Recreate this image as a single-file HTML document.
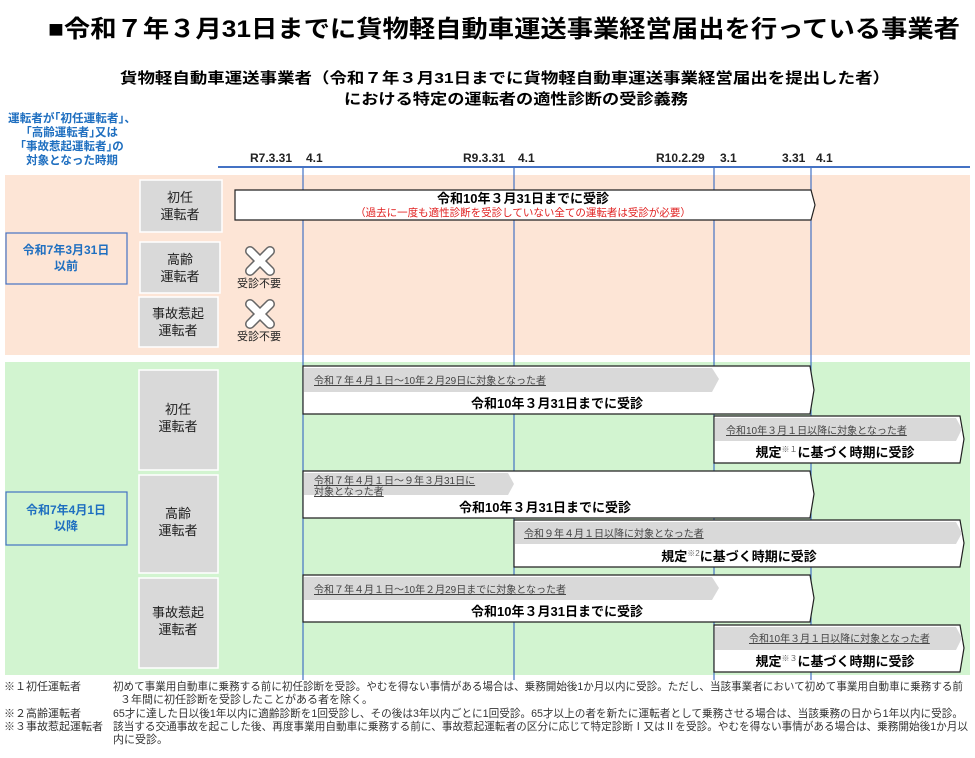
<!DOCTYPE html>
<html><head><meta charset="utf-8"><style>
html,body{margin:0;padding:0;background:#fff;}
svg{display:block;font-family:"Liberation Sans","Noto Sans CJK JP",sans-serif;}
</style></head><body>
<svg width="975" height="758" viewBox="0 0 975 758" xmlns="http://www.w3.org/2000/svg">
<defs>
<style>
.b{font-weight:bold;}
.lab{font-size:13px;fill:#222;}
.hd{font-size:10px;fill:#444;text-decoration:underline;}
.m{font-size:13px;font-weight:bold;fill:#000;}
.fn{font-size:11px;fill:#333;}
</style>
</defs>
<text x="48" y="37" font-size="24" class="b" textLength="912" lengthAdjust="spacingAndGlyphs">■令和７年３月31日までに貨物軽自動車運送事業経営届出を行っている事業者</text>
<text x="120" y="83" font-size="15" class="b" textLength="770" lengthAdjust="spacingAndGlyphs">貨物軽自動車運送事業者（令和７年３月31日までに貨物軽自動車運送事業経営届出を提出した者）</text>
<text x="344" y="104" font-size="15" class="b" textLength="344" lengthAdjust="spacingAndGlyphs">における特定の運転者の適性診断の受診義務</text>
<g font-size="11.5" fill="#1f6fc0" class="b" text-anchor="middle">
<text x="72" y="122" textLength="128" lengthAdjust="spacingAndGlyphs">運転者が｢初任運転者｣、</text>
<text x="72" y="136">｢高齢運転者｣又は</text>
<text x="72" y="150">｢事故惹起運転者｣の</text>
<text x="72" y="164">対象となった時期</text>
</g>
<line x1="218" y1="167" x2="970" y2="167" stroke="#4472c4" stroke-width="2"/>
<g font-size="12" class="b" fill="#222">
<text x="250" y="162">R7.3.31</text><text x="306" y="162">4.1</text>
<text x="463" y="162">R9.3.31</text><text x="518" y="162">4.1</text>
<text x="656" y="162">R10.2.29</text><text x="720" y="162">3.1</text>
<text x="782" y="162">3.31</text><text x="816" y="162">4.1</text>
</g>
<rect x="5" y="175" width="965" height="180" fill="#fde5d6"/>
<rect x="5" y="362" width="965" height="313" fill="#d2f4d0"/>
<g stroke="#4472c4" stroke-width="1.2">
<line x1="303" y1="167" x2="303" y2="680"/>
<line x1="514" y1="167" x2="514" y2="680"/>
<line x1="714" y1="167" x2="714" y2="680"/>
<line x1="811" y1="167" x2="811" y2="680"/>
</g>
<rect x="6" y="233" width="121" height="51" fill="none" stroke="#4472c4" stroke-width="1.2"/>
<text x="66" y="254" font-size="12" class="b" fill="#1f6fc0" text-anchor="middle">令和7年3月31日</text>
<text x="66" y="270" font-size="12" class="b" fill="#1f6fc0" text-anchor="middle">以前</text>
<rect x="6" y="492" width="121" height="53" fill="none" stroke="#4472c4" stroke-width="1.2"/>
<text x="66" y="514" font-size="12" class="b" fill="#1f6fc0" text-anchor="middle">令和7年4月1日</text>
<text x="66" y="530" font-size="12" class="b" fill="#1f6fc0" text-anchor="middle">以降</text>
<g fill="#d9d9d9" stroke="#fff" stroke-width="1.5">
<rect x="140" y="180" width="82" height="52"/>
<rect x="140" y="242" width="80" height="51"/>
<rect x="139" y="297" width="79" height="50"/>
<rect x="139" y="370" width="79" height="100"/>
<rect x="139" y="475" width="79" height="98"/>
<rect x="139" y="578" width="79" height="90"/>
</g>
<g class="lab" text-anchor="middle">
<text x="180" y="202">初任</text><text x="180" y="219">運転者</text>
<text x="180" y="264">高齢</text><text x="180" y="281">運転者</text>
<text x="178" y="318">事故惹起</text><text x="178" y="335">運転者</text>
<text x="178" y="414">初任</text><text x="178" y="431">運転者</text>
<text x="178" y="518">高齢</text><text x="178" y="535">運転者</text>
<text x="178" y="617">事故惹起</text><text x="178" y="634">運転者</text>
</g>
<g stroke="#666" stroke-width="10" stroke-linecap="round"><line x1="250" y1="251" x2="270" y2="271"/><line x1="270" y1="251" x2="250" y2="271"/>
<line x1="250" y1="304" x2="270" y2="324"/><line x1="270" y1="304" x2="250" y2="324"/></g>
<g stroke="#fff" stroke-width="7" stroke-linecap="round"><line x1="250" y1="251" x2="270" y2="271"/><line x1="270" y1="251" x2="250" y2="271"/>
<line x1="250" y1="304" x2="270" y2="324"/><line x1="270" y1="304" x2="250" y2="324"/></g>
<text x="259" y="287" font-size="11" fill="#222" text-anchor="middle">受診不要</text>
<text x="259" y="340" font-size="11" fill="#222" text-anchor="middle">受診不要</text>
<path d="M235,190 H811 L815,205 L811,220 H235 Z" fill="#fff" stroke="#222" stroke-width="1.2"/>
<text x="523" y="203" class="m" text-anchor="middle">令和10年３月31日までに受診</text>
<text x="523" y="216" font-size="10.5" fill="#e02020" text-anchor="middle">（過去に一度も適性診断を受診していない全ての運転者は受診が必要）</text>
<g stroke="#222" stroke-width="1.2" fill="#fff">
<path d="M303,366 H810 L814,390 L810,414 H303 Z"/>
<path d="M714,416 H960 L964,439 L960,463 H714 Z"/>
<path d="M303,471 H810 L814,494 L810,518 H303 Z"/>
<path d="M514,520 H960 L964,543 L960,567 H514 Z"/>
<path d="M303,575 H810 L814,598 L810,622 H303 Z"/>
<path d="M714,625 H960 L964,648 L960,672 H714 Z"/>
</g>
<g fill="#d9d9d9">
<path d="M304,368 H712 L719,379 L712,392 H304 Z"/>
<path d="M715,418 H956 L962,429 L956,441 H715 Z"/>
<path d="M304,473 H508 L514,484 L508,495 H304 Z"/>
<path d="M515,522 H956 L962,533 L956,544 H515 Z"/>
<path d="M304,577 H712 L719,588 L712,600 H304 Z"/>
<path d="M715,627 H956 L962,638 L956,650 H715 Z"/>
</g>
<g class="hd">
<text x="314" y="384">令和７年４月１日～10年２月29日に対象となった者</text>
<text x="726" y="434">令和10年３月１日以降に対象となった者</text>
<text x="314" y="484">令和７年４月１日～９年３月31日に</text>
<text x="314" y="495">対象となった者</text>
<text x="524" y="537">令和９年４月１日以降に対象となった者</text>
<text x="314" y="593">令和７年４月１日～10年２月29日までに対象となった者</text>
<text x="749" y="642">令和10年３月１日以降に対象となった者</text>
</g>
<g class="m" text-anchor="middle">
<text x="557" y="408">令和10年３月31日までに受診</text>
<text x="835" y="457">規定<tspan font-size="8" dy="-5" font-weight="normal" fill="#666">※１</tspan><tspan dy="5">に基づく時期に受診</tspan></text>
<text x="545" y="512">令和10年３月31日までに受診</text>
<text x="739" y="561">規定<tspan font-size="8" dy="-5" font-weight="normal" fill="#666">※2</tspan><tspan dy="5">に基づく時期に受診</tspan></text>
<text x="557" y="616">令和10年３月31日までに受診</text>
<text x="835" y="666">規定<tspan font-size="8" dy="-5" font-weight="normal" fill="#666">※３</tspan><tspan dy="5">に基づく時期に受診</tspan></text>
</g>
<g class="fn">
<text x="4" y="690">※１初任運転者</text>
<text x="113" y="690" textLength="850" lengthAdjust="spacingAndGlyphs">初めて事業用自動車に乗務する前に初任診断を受診。やむを得ない事情がある場合は、乗務開始後1か月以内に受診。ただし、当該事業者において初めて事業用自動車に乗務する前</text>
<text x="120" y="703">３年間に初任診断を受診したことがある者を除く。</text>
<text x="4" y="717">※２高齢運転者</text>
<text x="113" y="717" textLength="850" lengthAdjust="spacingAndGlyphs">65才に達した日以後1年以内に適齢診断を1回受診し、その後は3年以内ごとに1回受診。65才以上の者を新たに運転者として乗務させる場合は、当該乗務の日から1年以内に受診。</text>
<text x="4" y="730">※３事故惹起運転者</text>
<text x="113" y="730" textLength="855" lengthAdjust="spacingAndGlyphs">該当する交通事故を起こした後、再度事業用自動車に乗務する前に、事故惹起運転者の区分に応じて特定診断Ⅰ又はⅡを受診。やむを得ない事情がある場合は、乗務開始後1か月以</text>
<text x="113" y="743">内に受診。</text>
</g>
</svg>
</body></html>
